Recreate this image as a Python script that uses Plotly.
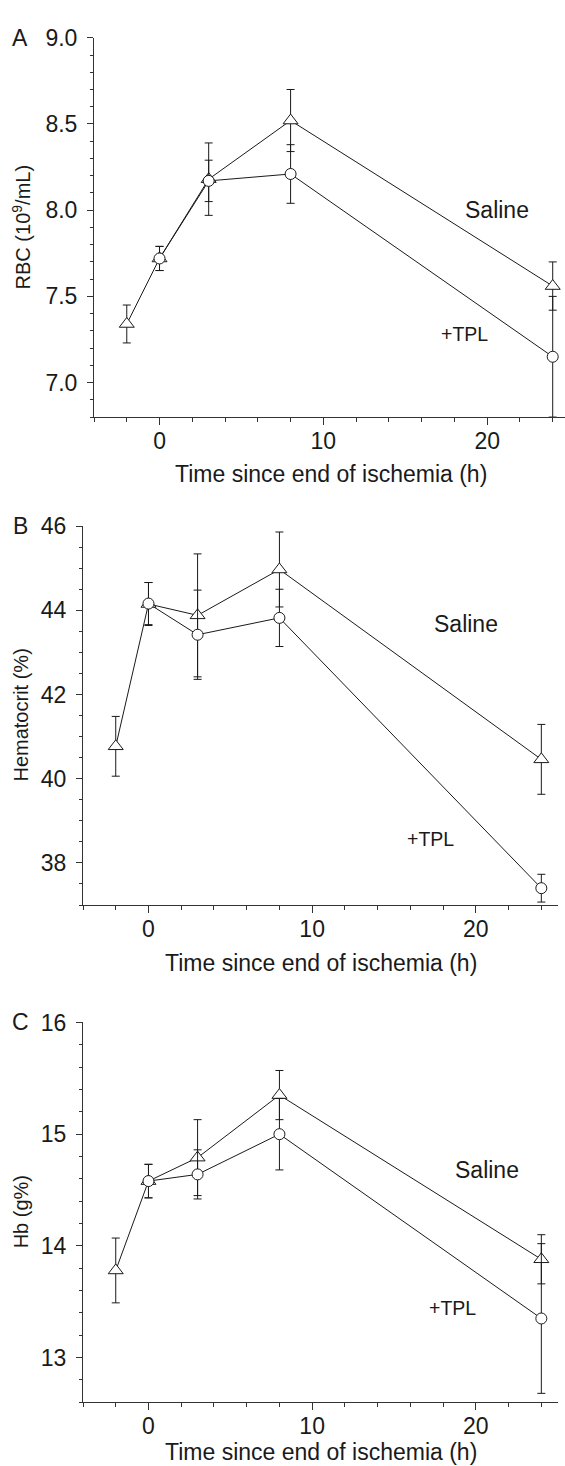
import plotly.graph_objects as go

# ---------------- data ----------------
time_saline = [-2, 0, 3, 8, 24]
time_tpl = [0, 3, 8, 24]

rbc_saline = [7.34, 7.72, 8.18, 8.52, 7.56]
rbc_saline_err = [0.11, 0.07, 0.21, 0.18, 0.14]
rbc_tpl = [7.72, 8.17, 8.21, 7.15]
rbc_tpl_err = [0.07, 0.12, 0.17, 0.35]

hct_saline = [40.77, 44.15, 43.88, 44.97, 40.46]
hct_saline_err = [0.71, 0.51, 1.46, 0.89, 0.83]
hct_tpl = [44.16, 43.42, 43.82, 37.40]
hct_tpl_err = [0.50, 1.06, 0.68, 0.33]

hb_saline = [13.78, 14.58, 14.79, 15.35, 13.88]
hb_saline_err = [0.29, 0.15, 0.34, 0.22, 0.22]
hb_tpl = [14.58, 14.64, 15.00, 13.35]
hb_tpl_err = [0.15, 0.22, 0.32, 0.67]

y_titles = ["RBC (10<sup>9</sup>/mL)", "Hematocrit (%)", "Hb (g%)"]
x_title = "Time since end of ischemia (h)"
panel_letters = ["A", "B", "C"]

W, H = 565, 1466
FONT = "Arial, Liberation Sans, sans-serif"
INK = "#1a1a1a"

def px_x(p):
    return p / W

def px_y(p):
    return 1 - p / H

panels = [
    dict(sal=rbc_saline, sal_e=rbc_saline_err, tpl=rbc_tpl, tpl_e=rbc_tpl_err,
         xdom=[px_x(94), 1.0], xr=[-4, 24.75], ydom=[px_y(407.7), px_y(25)],
         yr=[6.8, 9.0], dtick=0.5, mdtick=0.1, fmt=".1f",
         saline_pos=(20.6, 8.0), tpl_pos=(18.6, 7.28),
         top=25, bottom=407.7, xcenter=331, xtitle_y=465),
    dict(sal=hct_saline, sal_e=hct_saline_err, tpl=hct_tpl, tpl_e=hct_tpl_err,
         xdom=[px_x(83), px_x(557.7)], xr=[-4, 25], ydom=[px_y(900), px_y(517.7)],
         yr=[37, 46], dtick=2, mdtick=0.5, fmt="d",
         saline_pos=(19.4, 43.67), tpl_pos=(17.2, 38.56),
         top=517.7, bottom=900, xcenter=321, xtitle_y=958),
    dict(sal=hb_saline, sal_e=hb_saline_err, tpl=hb_tpl, tpl_e=hb_tpl_err,
         xdom=[px_x(83), px_x(557.7)], xr=[-4, 25], ydom=[px_y(1401.7), px_y(1018.5)],
         yr=[12.6, 16], dtick=1, mdtick=0.2, fmt="d",
         saline_pos=(20.7, 14.68), tpl_pos=(18.6, 13.44),
         top=1018.5, bottom=1401.7, xcenter=321, xtitle_y=1452),
]

fig = go.Figure()
annotations = []
layout_axes = {}

for i, p in enumerate(panels):
    n = "" if i == 0 else str(i + 1)
    xa, ya = "x" + n, "y" + n
    # connecting lines first
    fig.add_trace(go.Scatter(x=time_saline, y=p["sal"], mode="lines", xaxis=xa, yaxis=ya,
                             line=dict(color=INK, width=1), showlegend=False, hoverinfo="skip"))
    fig.add_trace(go.Scatter(x=time_tpl, y=p["tpl"], mode="lines", xaxis=xa, yaxis=ya,
                             line=dict(color=INK, width=1), showlegend=False, hoverinfo="skip"))
    # saline markers (open triangles)
    fig.add_trace(go.Scatter(x=time_saline, y=p["sal"], mode="markers", xaxis=xa, yaxis=ya,
                             marker=dict(symbol="triangle-up", size=13, color="white",
                                         line=dict(color=INK, width=1)),
                             error_y=dict(type="data", array=p["sal_e"], visible=True,
                                          color=INK, thickness=1, width=4),
                             showlegend=False, cliponaxis=False))
    # TPL markers (open circles)
    fig.add_trace(go.Scatter(x=time_tpl, y=p["tpl"], mode="markers", xaxis=xa, yaxis=ya,
                             marker=dict(symbol="circle", size=11, color="white",
                                         line=dict(color=INK, width=1)),
                             error_y=dict(type="data", array=p["tpl_e"], visible=True,
                                          color=INK, thickness=1, width=4),
                             showlegend=False, cliponaxis=False))

    common_tick = dict(showgrid=False, zeroline=False, showline=True, linecolor="#333",
                       linewidth=1, ticks="outside", tickwidth=1, tickcolor="#333",
                       tickfont=dict(family=FONT, size=23, color=INK))
    layout_axes["xaxis" + n] = dict(domain=p["xdom"], range=p["xr"], anchor=ya,
                                    tick0=0, dtick=10, ticklen=7, ticklabelstandoff=-4,
                                    minor=dict(ticks="outside", dtick=2, tick0=0, ticklen=3.5,
                                               tickwidth=1, tickcolor="#333", showgrid=False),
                                    **common_tick)
    layout_axes["yaxis" + n] = dict(domain=p["ydom"], range=p["yr"], anchor=xa,
                                    tick0=0, dtick=p["dtick"], ticklen=6,
                                    tickformat=p["fmt"], ticklabelstandoff=5,
                                    minor=dict(ticks="outside", dtick=p["mdtick"], tick0=0,
                                               ticklen=3, tickwidth=1, tickcolor="#333",
                                               showgrid=False),
                                    **common_tick)

    # in-plot labels
    annotations.append(dict(x=p["saline_pos"][0], y=p["saline_pos"][1], xref=xa, yref=ya,
                            text="Saline", showarrow=False,
                            font=dict(family=FONT, size=23, color=INK)))
    annotations.append(dict(x=p["tpl_pos"][0], y=p["tpl_pos"][1], xref=xa, yref=ya,
                            text="+TPL", showarrow=False,
                            font=dict(family=FONT, size=19.5, color=INK)))
    # panel letter
    annotations.append(dict(x=px_x(20), y=px_y(p["top"]), xref="paper", yref="paper",
                            text=panel_letters[i], showarrow=False, xanchor="center",
                            yanchor="middle", font=dict(family=FONT, size=23, color=INK)))
    # y title
    annotations.append(dict(x=px_x(21), y=px_y((p["top"] + p["bottom"]) / 2), xref="paper",
                            yref="paper", text=y_titles[i], showarrow=False, textangle=-90,
                            xanchor="center", yanchor="middle",
                            font=dict(family=FONT, size=20, color=INK)))
    # x title
    annotations.append(dict(x=px_x(p["xcenter"]), y=px_y(p["xtitle_y"]), xref="paper",
                            yref="paper", text=x_title, showarrow=False,
                            xanchor="center", yanchor="middle",
                            font=dict(family=FONT, size=23, color=INK)))

fig.update_layout(width=W, height=H, autosize=False,
                  margin=dict(l=0, r=0, t=0, b=0),
                  paper_bgcolor="white", plot_bgcolor="white",
                  annotations=annotations, showlegend=False, **layout_axes)

fig.write_html("out.html", config={"displayModeBar": False},
               post_script="document.body.style.margin='0';document.body.style.padding='0';")
